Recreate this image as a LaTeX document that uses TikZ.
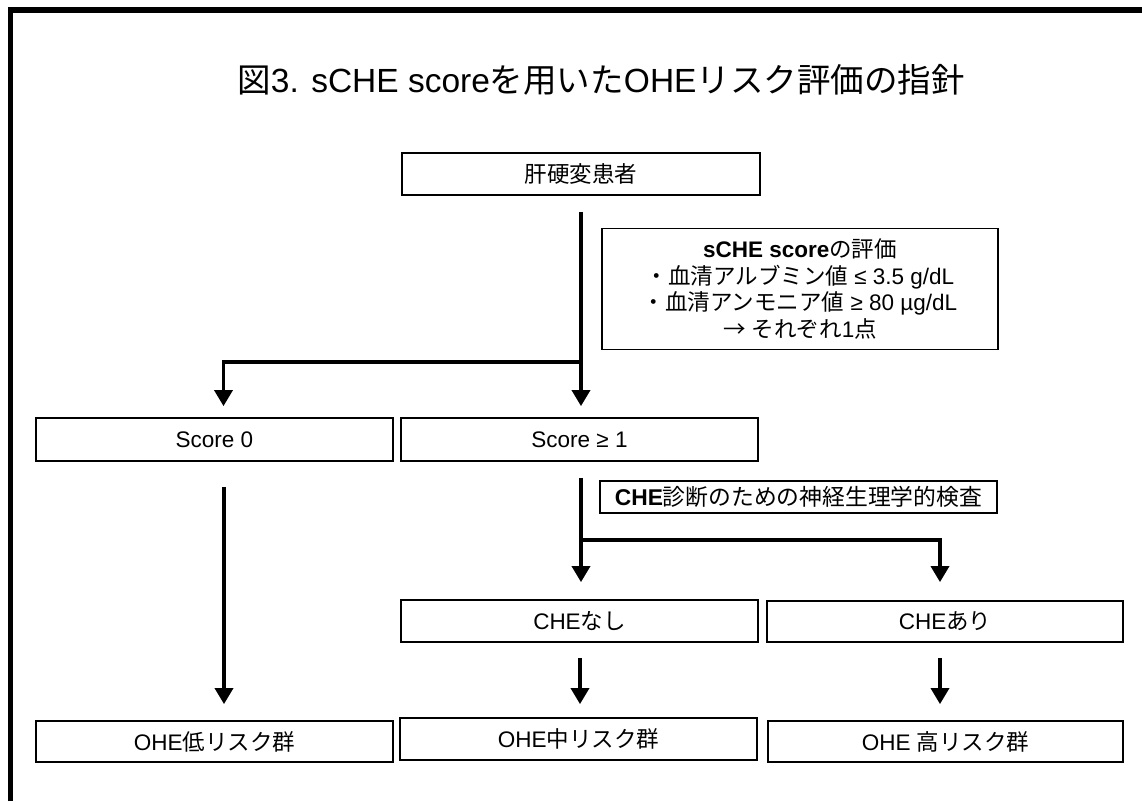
\documentclass[tikz,border=0pt]{standalone}
\usepackage{fontspec}
\setmainfont{Liberation Sans}
\newfontfamily\jp{Noto Sans CJK JP}
\newcommand\J[1]{{\jp #1}}
\usetikzlibrary{arrows.meta}
\begin{document}
\begin{tikzpicture}[x=1pt,y=-1pt,
  box/.style={draw=black, line width=1.8pt, inner sep=0pt, align=center,
    font=\fontsize{22.5}{26.5}\selectfont},
  conn/.style={line width=3.5pt},
  arr/.style={line width=3.5pt, -{Triangle[width=18pt,length=16pt]}}]
\useasboundingbox (0,0) rectangle (1142,801);
\fill[white] (0,0) rectangle (1142,801);
\draw[line width=5.5pt] (10.5,801) -- (10.5,10) -- (1142,10);

\node[font=\fontsize{33.5}{40}\selectfont] (title) at (601,80)
  {\J{図}3. sCHE score\J{を用いた}OHE\J{リスク評価の指針}};

\node[box, minimum width=358pt, minimum height=42pt] (liver) at (581,174) {\J{肝硬変患者}};
\node[box, minimum width=396pt, minimum height=121pt] (sche) at (800,289)
  {\textbf{sCHE score}\J{の評価}\\
   \J{・血清アルブミン値} ≤ 3.5 g/dL\\
   \J{・血清アンモニア値} ≥ 80 µg/dL\\
   \J{→} \J{それぞれ}1\J{点}};
\node[box, minimum width=357pt, minimum height=43pt] (s0) at (214.5,439.5) {Score 0};
\node[box, minimum width=357pt, minimum height=43pt] (s1) at (579.5,439.5) {Score ≥ 1};
\node[box, minimum width=397pt, minimum height=32pt, font=\fontsize{22.8}{27}\selectfont] (chk) at (798.5,497)
  {\textbf{CHE}\J{診断のための神経生理学的検査}};
\node[box, minimum width=357pt, minimum height=42pt] (nashi) at (579.5,621) {CHE\J{なし}};
\node[box, minimum width=356pt, minimum height=41pt] (ari) at (945,621.5) {CHE\J{あり}};
\node[box, minimum width=357pt, minimum height=41pt] (low) at (214.5,741.5) {OHE\J{低リスク群}};
\node[box, minimum width=357pt, minimum height=42pt] (mid) at (578.5,739) {OHE\J{中リスク群}};
\node[box, minimum width=355pt, minimum height=41pt] (high) at (945.5,741.5) {OHE \J{高リスク群}};

% from liver
\coordinate (j1) at (581,362);
\draw[conn] (liver.south) ++(0,16) -- (j1);
\draw[arr] (j1) -| ([xshift=9pt,yshift=11pt]s0.north);
\draw[arr, shorten >=11pt] (j1) -- (j1 |- s1.north);

% from score >= 1
\coordinate (j2) at (581,540);
\draw[conn] (s1.south) ++(1.5,16) -- (j2);
\draw[arr, shorten >=17pt] (j2) -- (j2 |- nashi.north);
\draw[arr, shorten >=18pt] (j2) -| ([xshift=-5pt]ari.north);

% score 0 down
\path ([xshift=9.5pt]s0.south) coordinate (s0b);
\draw[arr, shorten <=25pt, shorten >=16pt] (s0b) -- (s0b |- low.north);

% nashi down
\path ([xshift=0.5pt]nashi.south) coordinate (nb);
\draw[arr, shorten <=15pt, shorten >=13pt] (nb) -- (nb |- mid.north);

% ari down
\path ([xshift=-5pt]ari.south) coordinate (ab);
\draw[arr, shorten <=15pt, shorten >=16pt] (ab) -- (ab |- high.north);
\end{tikzpicture}
\end{document}
